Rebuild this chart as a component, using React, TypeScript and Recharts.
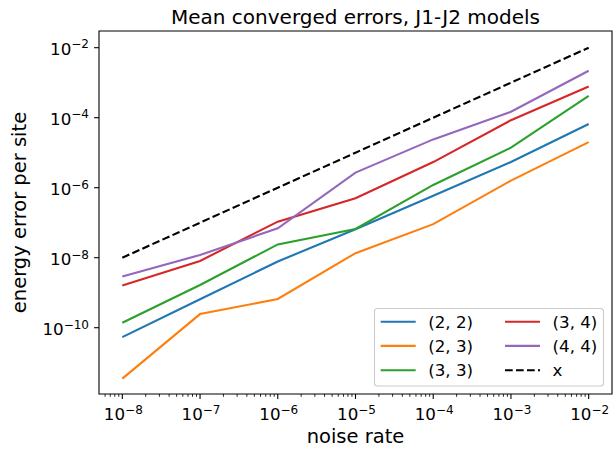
import { LineChart, Line, XAxis, YAxis, ReferenceArea } from "recharts";

// noise rate on the x axis
const noiseRates = [1e-8, 1e-7, 1e-6, 1e-5, 1e-4, 1e-3, 1e-2];

// mean converged energy error per site, one array per (Lx, Ly) model
const err22 = [5.4e-11, 6.5e-10, 7.8e-9, 6.5e-8, 5.9e-7, 5.4e-6, 6.6e-5];
const err23 = [3.5e-12, 2.45e-10, 6.6e-10, 1.35e-8, 9.1e-8, 1.6e-6, 2.0e-5];
const err33 = [1.38e-10, 1.66e-9, 2.4e-8, 6.6e-8, 1.2e-6, 1.4e-5, 4.2e-4];
const err34 = [1.6e-9, 8.1e-9, 1.07e-7, 5.0e-7, 5.4e-6, 8.5e-5, 7.8e-4];
const err44 = [2.9e-9, 1.2e-8, 6.9e-8, 2.7e-6, 2.4e-5, 1.48e-4, 2.2e-3];
const refX = [1e-8, 1e-7, 1e-6, 1e-5, 1e-4, 1e-3, 1e-2];

const xMajorTicks = [1e-8, 1e-7, 1e-6, 1e-5, 1e-4, 1e-3, 1e-2];
const yMajorTicks = [1e-10, 1e-8, 1e-6, 1e-4, 1e-2];
const minorMultiples = [2, 3, 4, 5, 6, 7, 8, 9];

const X_DOMAIN = [Math.pow(10, -8.3), Math.pow(10, -1.7)];
const Y_DOMAIN = [Math.pow(10, -11.894), Math.pow(10, -1.523)];

const xMinorTicks = [1e-9, ...xMajorTicks.slice(0, -1)]
  .flatMap((d) => minorMultiples.map((m) => m * d))
  .filter((v) => v > X_DOMAIN[0] && v < X_DOMAIN[1]);

const SERIES = [
  { key: "s22", name: "(2, 2)", color: "#1f77b4", values: err22 },
  { key: "s23", name: "(2, 3)", color: "#ff7f0e", values: err23 },
  { key: "s33", name: "(3, 3)", color: "#2ca02c", values: err33 },
  { key: "s34", name: "(3, 4)", color: "#d62728", values: err34 },
  { key: "s44", name: "(4, 4)", color: "#9467bd", values: err44 },
  { key: "x", name: "x", color: "#000000", values: refX, dash: "7.7 3.3" },
];

const data = noiseRates.map((noise, i) => {
  const row: Record<string, number> = { noise };
  SERIES.forEach((s) => (row[s.key] = s.values[i]));
  return row;
});

const FONT = "'DejaVu Sans', sans-serif";
const W = 613;
const H = 452;
const PLOT = { left: 99, top: 31, right: 612, bottom: 394 };

const isMajor = (v: number) => {
  const l = Math.log10(v);
  return Math.abs(l - Math.round(l)) < 1e-6;
};

function PowerLabel({ x, y, v, anchor }: { x: number; y: number; v: number; anchor: "middle" | "end" }) {
  const exp = Math.round(Math.log10(v));
  return (
    <text x={x} y={y} textAnchor={anchor} fontFamily={FONT} fontSize={16.7} fill="#000">
      <tspan>10</tspan>
      <tspan fontSize={12} dy={-6.5}>{"\u2212" + Math.abs(exp)}</tspan>
    </text>
  );
}

function XTick(props: any) {
  const { x, y, payload } = props;
  const v = payload.value;
  if (!isMajor(v)) {
    return <line x1={x} x2={x} y1={y} y2={y + 2.8} stroke="#000" strokeWidth={0.85} />;
  }
  return (
    <g>
      <line x1={x} x2={x} y1={y} y2={y + 4.9} stroke="#000" strokeWidth={1.1} />
      <PowerLabel x={x + 1} y={y + 26} v={v} anchor="middle" />
    </g>
  );
}

function YTick(props: any) {
  const { x, y, payload } = props;
  return (
    <g>
      <line x1={x - 4.9} x2={x} y1={y} y2={y} stroke="#000" strokeWidth={1.1} />
      <PowerLabel x={x - 10} y={y + 7.3} v={payload.value} anchor="end" />
    </g>
  );
}

function LegendBox() {
  const box = { x: 374.5, y: 308.5, w: 229, h: 77.5 };
  const rows = [321.7, 345.9, 370.2];
  const cols = [380.7, 505];
  return (
    <g>
      <rect
        x={box.x}
        y={box.y}
        width={box.w}
        height={box.h}
        rx={3}
        fill="#fff"
        fillOpacity={0.8}
        stroke="#cccccc"
        strokeWidth={1.1}
      />
      {SERIES.map((s, i) => {
        const cx = cols[Math.floor(i / 3)];
        const cy = rows[i % 3];
        return (
          <g key={s.key}>
            <line
              x1={cx}
              x2={cx + 35}
              y1={cy}
              y2={cy}
              stroke={s.color}
              strokeWidth={2.1}
              strokeDasharray={s.dash}
            />
            <text x={cx + 47.5} y={cy + 5.8} fontFamily={FONT} fontSize={16.7} fill="#000">
              {s.name}
            </text>
          </g>
        );
      })}
    </g>
  );
}

export default function App() {
  return (
    <div style={{ position: "absolute", left: 0, top: 0, width: W, height: H, background: "#fff" }}>
      <LineChart
        width={W}
        height={H}
        data={data}
        margin={{ top: PLOT.top, right: W - PLOT.right, left: 0, bottom: 0 }}
      >
        <XAxis
          dataKey="noise"
          type="number"
          scale="log"
          domain={X_DOMAIN}
          allowDataOverflow
          ticks={[...xMajorTicks, ...xMinorTicks]}
          interval={0}
          tick={<XTick />}
          tickLine={false}
          tickSize={0}
          tickMargin={0}
          axisLine={false}
          height={H - PLOT.bottom}
        />
        <YAxis
          type="number"
          scale="log"
          domain={Y_DOMAIN}
          allowDataOverflow
          ticks={yMajorTicks}
          interval={0}
          tick={<YTick />}
          tickLine={false}
          tickSize={0}
          tickMargin={0}
          axisLine={false}
          width={PLOT.left}
        />
        {SERIES.map((s) => (
          <Line
            key={s.key}
            dataKey={s.key}
            stroke={s.color}
            strokeWidth={2.1}
            strokeDasharray={s.dash}
            dot={false}
            activeDot={false}
            isAnimationActive={false}
          />
        ))}
        <ReferenceArea
          x1={X_DOMAIN[0]}
          x2={X_DOMAIN[1]}
          y1={Y_DOMAIN[0]}
          y2={Y_DOMAIN[1]}
          fill="none"
          stroke="#000"
          strokeWidth={1.1}
          ifOverflow="visible"
        />
      </LineChart>
      <svg
        width={W}
        height={H}
        style={{ position: "absolute", left: 0, top: 0, pointerEvents: "none" }}
      >
        <text
          x={(PLOT.left + PLOT.right) / 2}
          y={23.5}
          textAnchor="middle"
          fontFamily={FONT}
          fontSize={20}
          fill="#000"
        >
          Mean converged errors, J1-J2 models
        </text>
        <text
          x={(PLOT.left + PLOT.right) / 2}
          y={442.8}
          textAnchor="middle"
          fontFamily={FONT}
          fontSize={19.5}
          fill="#000"
        >
          noise rate
        </text>
        <text
          x={25.5}
          y={(PLOT.top + PLOT.bottom) / 2}
          textAnchor="middle"
          fontFamily={FONT}
          fontSize={19.5}
          fill="#000"
          transform={`rotate(-90 25.5 ${(PLOT.top + PLOT.bottom) / 2})`}
        >
          energy error per site
        </text>
        <LegendBox />
      </svg>
    </div>
  );
}
